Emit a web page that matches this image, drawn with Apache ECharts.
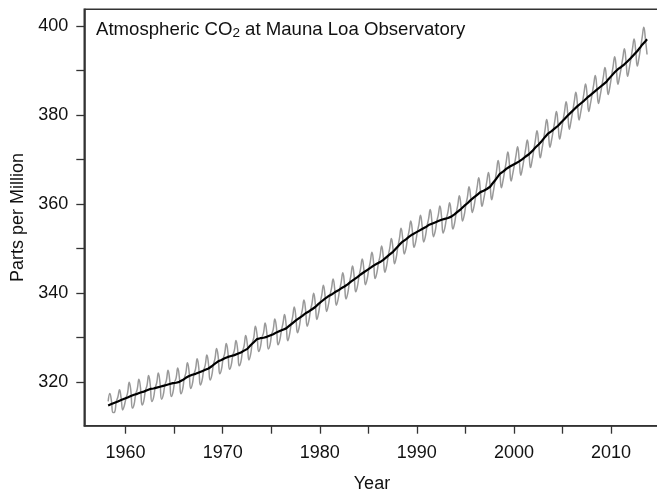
<!DOCTYPE html>
<html><head><meta charset="utf-8">
<script src="https://cdn.jsdelivr.net/npm/echarts@6/dist/echarts.min.js"></script>
<style>html,body{margin:0;padding:0;background:#fff}#c{width:657px;height:491px}</style>
</head><body><div id="c"></div>
<script>
// Samples every 2 months starting March 1958 (Mar, May, Jul, Sep, Nov, Jan, ...)
const firstYear = 1958;
const firstMonth = 3;
const monthStep = 2;

// Monthly-mean CO2 (ppm), sampled bimonthly
const co2Monthly = [
  315.7, 317.5, 315.9, 313.2, 313.3,
  315.6, 316.7, 318.3, 316.5, 313.8, 314.8,
  316.4, 317.6, 320.0, 318.2, 314.2, 315.0,
  317.3, 318.5, 320.7, 318.7, 314.9, 315.8,
  318.1, 319.3, 321.5, 319.5, 315.7, 316.5,
  318.7, 319.9, 322.1, 320.0, 316.2, 317.1,
  319.3, 320.5, 322.7, 320.6, 316.8, 317.7,
  319.9, 321.0, 323.2, 321.1, 317.4, 318.4,
  320.8, 322.1, 324.4, 322.4, 318.6, 319.6,
  321.8, 323.0, 325.3, 323.2, 319.4, 320.4,
  322.6, 323.9, 326.1, 324.1, 320.5, 321.5,
  323.9, 325.3, 327.6, 325.7, 321.9, 322.9,
  325.2, 326.5, 328.7, 326.7, 322.9, 323.8,
  326.0, 327.2, 329.4, 327.4, 323.7, 324.6,
  326.9, 328.2, 330.5, 328.5, 325.0, 326.2,
  328.7, 330.1, 332.6, 330.7, 326.9, 327.8,
  330.0, 331.1, 333.3, 331.2, 327.5, 328.4,
  330.7, 331.9, 334.2, 332.2, 328.4, 329.4,
  331.5, 333.2, 335.2, 332.8, 329.3, 330.6,
  332.9, 334.7, 336.9, 334.6, 331.1, 332.3,
  334.6, 336.3, 338.5, 336.2, 332.6, 333.8,
  336.1, 337.8, 340.0, 337.6, 334.1, 335.5,
  337.8, 339.6, 341.8, 339.5, 335.9, 337.2,
  339.4, 341.1, 343.2, 340.9, 337.3, 338.5,
  340.7, 342.5, 344.6, 342.2, 338.7, 339.9,
  342.2, 344.0, 346.1, 343.8, 340.3, 341.5,
  343.8, 345.6, 347.7, 345.4, 341.9, 343.1,
  345.3, 347.1, 349.2, 346.9, 343.3, 344.5,
  346.7, 348.4, 350.6, 348.2, 344.7, 346.0,
  348.3, 350.1, 352.3, 350.0, 346.6, 348.0,
  350.4, 352.3, 354.6, 352.3, 348.8, 350.0,
  352.3, 354.1, 356.2, 353.9, 350.3, 351.5,
  353.7, 355.4, 357.5, 355.1, 351.5, 352.7,
  355.0, 356.7, 358.8, 356.3, 352.7, 353.8,
  356.0, 357.6, 359.6, 357.2, 353.5, 354.6,
  356.7, 358.3, 360.3, 357.9, 354.4, 355.6,
  357.9, 359.7, 361.9, 359.6, 356.2, 357.5,
  359.8, 361.6, 363.9, 361.6, 358.1, 359.4,
  361.6, 363.8, 365.9, 363.1, 359.5, 361.0,
  363.0, 365.1, 367.1, 364.3, 361.0, 362.8,
  365.1, 367.5, 369.8, 367.2, 363.7, 365.3,
  367.4, 369.6, 371.7, 368.8, 365.2, 366.8,
  368.8, 370.9, 372.9, 370.0, 366.5, 368.1,
  370.2, 372.4, 374.4, 371.6, 368.2, 369.9,
  372.1, 374.4, 376.5, 373.8, 370.4, 372.2,
  374.4, 376.8, 379.0, 376.3, 372.8, 374.4,
  376.5, 378.7, 380.8, 378.0, 374.6, 376.4,
  378.6, 380.8, 383.0, 380.3, 376.8, 378.6,
  380.7, 383.0, 385.1, 382.4, 378.9, 380.6,
  382.7, 384.9, 387.0, 384.3, 380.8, 382.5,
  384.6, 386.8, 388.9, 386.1, 382.6, 384.3,
  386.4, 388.6, 390.7, 387.9, 384.6, 386.3,
  388.6, 390.9, 393.1, 390.4, 386.9, 388.6,
  390.6, 392.8, 394.9, 392.1, 388.7, 390.5,
  392.6, 394.9, 397.1, 394.4, 391.0, 392.8,
  395.1, 397.5, 399.7, 397.0, 393.6
];

// Seasonally adjusted trend (ppm), same sample times
const co2Trend = [
  314.8, 315.0, 315.1, 315.3, 315.4,
  315.6, 315.7, 315.9, 316.0, 316.2, 316.3,
  316.5, 316.6, 316.8, 316.9, 317.1, 317.2,
  317.3, 317.4, 317.5, 317.7, 317.8, 317.9,
  318.1, 318.2, 318.3, 318.5, 318.6, 318.6,
  318.7, 318.8, 318.9, 319.0, 319.1, 319.2,
  319.3, 319.4, 319.5, 319.6, 319.7, 319.8,
  319.9, 319.9, 320.0, 320.1, 320.3, 320.5,
  320.8, 321.0, 321.2, 321.4, 321.5, 321.7,
  321.8, 321.9, 322.1, 322.2, 322.3, 322.5,
  322.6, 322.8, 322.9, 323.1, 323.4, 323.6,
  323.9, 324.2, 324.4, 324.7, 324.8, 325.0,
  325.2, 325.4, 325.5, 325.7, 325.8, 325.9,
  326.0, 326.1, 326.2, 326.4, 326.6, 326.7,
  326.9, 327.1, 327.3, 327.5, 327.9, 328.3,
  328.7, 329.0, 329.4, 329.7, 329.8, 329.9,
  330.0, 330.0, 330.1, 330.2, 330.4, 330.5,
  330.7, 330.8, 331.0, 331.2, 331.3, 331.5,
  331.6, 331.8, 331.9, 332.1, 332.4, 332.7,
  333.0, 333.3, 333.6, 333.9, 334.2, 334.4,
  334.7, 334.9, 335.2, 335.5, 335.7, 335.9,
  336.2, 336.4, 336.7, 336.9, 337.2, 337.6,
  337.9, 338.2, 338.5, 338.8, 339.0, 339.3,
  339.5, 339.7, 339.9, 340.2, 340.4, 340.6,
  340.8, 341.1, 341.3, 341.5, 341.8, 342.0,
  342.3, 342.6, 342.8, 343.1, 343.4, 343.6,
  343.9, 344.2, 344.4, 344.7, 345.0, 345.2,
  345.4, 345.7, 345.9, 346.2, 346.4, 346.6,
  346.8, 347.0, 347.3, 347.5, 347.8, 348.1,
  348.4, 348.7, 349.0, 349.3, 349.7, 350.1,
  350.5, 350.9, 351.3, 351.6, 351.9, 352.1,
  352.4, 352.7, 352.9, 353.2, 353.4, 353.6,
  353.8, 354.0, 354.2, 354.4, 354.6, 354.8,
  355.1, 355.3, 355.5, 355.6, 355.8, 355.9,
  356.1, 356.2, 356.3, 356.5, 356.6, 356.7,
  356.8, 356.9, 357.0, 357.2, 357.5, 357.7,
  358.0, 358.3, 358.6, 358.9, 359.3, 359.6,
  359.9, 360.2, 360.6, 360.9, 361.2, 361.5,
  361.8, 362.1, 362.4, 362.7, 362.9, 363.0,
  363.2, 363.4, 363.6, 363.9, 364.4, 364.8,
  365.3, 365.8, 366.3, 366.8, 367.1, 367.3,
  367.6, 367.9, 368.2, 368.4, 368.6, 368.8,
  369.0, 369.2, 369.4, 369.6, 369.9, 370.1,
  370.4, 370.7, 370.9, 371.2, 371.6, 371.9,
  372.3, 372.7, 373.0, 373.4, 373.8, 374.2,
  374.6, 375.1, 375.5, 375.9, 376.2, 376.4,
  376.7, 377.0, 377.3, 377.6, 378.0, 378.4,
  378.8, 379.1, 379.5, 379.9, 380.2, 380.6,
  380.9, 381.3, 381.6, 382.0, 382.3, 382.6,
  382.9, 383.2, 383.5, 383.9, 384.2, 384.5,
  384.8, 385.1, 385.4, 385.7, 386.0, 386.3,
  386.6, 386.9, 387.2, 387.5, 388.0, 388.3,
  388.8, 389.2, 389.6, 390.0, 390.3, 390.6,
  390.8, 391.1, 391.4, 391.7, 392.1, 392.5,
  392.8, 393.2, 393.6, 394.0, 394.4, 394.8,
  395.3, 395.8, 396.2, 396.6, 397.0
];

const xTicks = [1960, 1965, 1970, 1975, 1980, 1985, 1990, 1995, 2000, 2005, 2010];
const xLabels = [1960, 1970, 1980, 1990, 2000, 2010];
const yTicks = [320, 330, 340, 350, 360, 370, 380, 390, 400];
const yLabels = [320, 340, 360, 380, 400];
const titleParts = ['Atmospheric CO', '2', ' at Mauna Loa Observatory'];
const xName = 'Year';
const yName = 'Parts per Million';

function toPairs(vals) {
  return vals.map(function (v, i) {
    const m = firstMonth - 1 + i * monthStep;
    return [firstYear + (m + 0.5) / 12, v];
  });
}

const font = '"Liberation Sans", Arial, Helvetica, sans-serif';
const txt = '#111';
const axisCol = '#333';

const chart = echarts.init(document.getElementById('c'), null, { renderer: 'canvas' });
chart.setOption({
  animation: false,
  backgroundColor: '#fff',
  title: {
    text: '{a|' + titleParts[0] + '}{s|' + titleParts[1] + '}{a|' + titleParts[2] + '}',
    left: 96, top: 19, padding: 0,
    textStyle: {
      fontWeight: 'normal',
      rich: {
        a: { fontSize: 18.6, fontFamily: font, fontWeight: 'normal', color: txt, lineHeight: 21 },
        s: { fontSize: 13.5, fontFamily: font, fontWeight: 'normal', color: txt, lineHeight: 13, verticalAlign: 'bottom' }
      }
    }
  },
  grid: { left: 84.3, top: 9.3, width: 575.3, height: 416.4, show: true, borderColor: axisCol, borderWidth: 1.6, outerBoundsMode: 'none', containLabel: false },
  xAxis: {
    type: 'value', min: 1955.75, max: 2015.0,
    name: xName, nameLocation: 'middle', nameGap: 49,
    nameTextStyle: { fontSize: 18, fontFamily: font, color: txt },
    axisLine: { show: true, onZero: false, lineStyle: { color: axisCol, width: 1.6 } },
    axisTick: { show: true, length: 8, customValues: xTicks, lineStyle: { color: axisCol, width: 1.3 } },
    axisLabel: { customValues: xLabels, margin: 18, fontSize: 18, fontFamily: font, color: txt, formatter: function (v) { return String(v); } },
    splitLine: { show: false }
  },
  yAxis: {
    type: 'value', min: 310.25, max: 403.75,
    name: yName, nameLocation: 'middle', nameGap: 57, nameRotate: 90,
    nameTextStyle: { fontSize: 18, fontFamily: font, color: txt },
    axisLine: { show: true, onZero: false, lineStyle: { color: axisCol, width: 1.6 } },
    axisTick: { show: true, length: 8, customValues: yTicks, lineStyle: { color: axisCol, width: 1.3 } },
    axisLabel: { customValues: yLabels, margin: 16, fontSize: 18, fontFamily: font, color: txt, formatter: function (v) { return String(v); } },
    splitLine: { show: false }
  },
  series: [
    { type: 'line', data: toPairs(co2Monthly), symbol: 'none', smooth: 0.5, lineStyle: { color: '#999', width: 1.5 }, z: 2 },
    { type: 'line', data: toPairs(co2Trend), symbol: 'none', lineStyle: { color: '#000', width: 2.2 }, z: 3 }
  ]
});
</script>
</body></html>
